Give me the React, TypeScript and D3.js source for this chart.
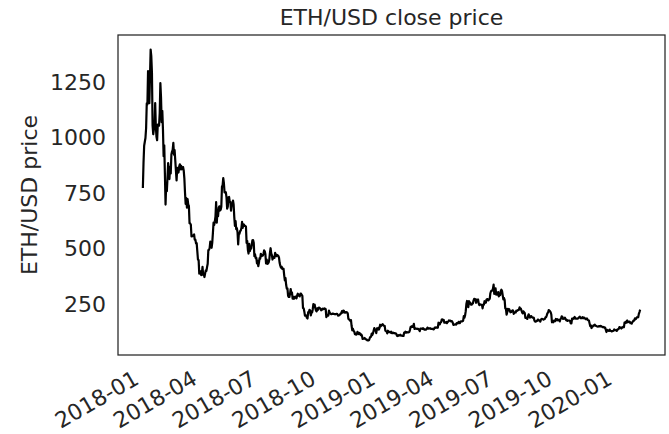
import React from "react";
import * as d3 from "d3";

const title = "ETH/USD close price";
const yLabel = "ETH/USD price";
const startDate = "2018-01-01";

const close2018 = [
  772, 884, 962, 980, 997, 1041, 1153, 1148, 1299, 1255, 1154, 1273, 1396, 1366, 1292, 1054, 1014, 1036, 1039, 1155, 1050, 1002, 987, 1058, 1056, 1053, 1109, 1245, 1181, 1068, 1119,
  1036, 915, 964, 834, 697, 790, 757, 817, 884, 860, 812, 867, 837, 923, 936, 944, 975, 922, 942, 895, 850, 806, 862, 841, 842, 868, 878, 856,
  872, 856, 857, 866, 851, 815, 751, 700, 726, 683, 721, 697, 691, 613, 612, 606, 553, 553, 557, 558, 562, 539, 539, 522, 523, 486, 448, 447, 385, 395, 396,
  379, 386, 416, 380, 383, 370, 386, 400, 398, 415, 430, 492, 492, 501, 530, 511, 502, 524, 567, 615, 605, 621, 643, 708, 615, 662, 645, 683, 689, 670,
  673, 687, 777, 784, 816, 793, 752, 753, 752, 729, 678, 687, 730, 731, 709, 709, 669, 697, 695, 715, 697, 640, 601, 622, 586, 590, 573, 517, 565, 565, 577,
  580, 591, 619, 592, 608, 606, 601, 601, 597, 524, 532, 492, 476, 520, 487, 498, 498, 517, 536, 537, 525, 464, 473, 455, 457, 432, 443, 419, 434, 455,
  453, 475, 464, 467, 467, 475, 490, 486, 473, 431, 449, 429, 431, 436, 449, 479, 500, 477, 469, 449, 461, 457, 456, 479, 471, 464, 470, 468, 465, 457, 433,
  421, 412, 417, 407, 408, 407, 378, 355, 365, 335, 318, 319, 286, 280, 280, 294, 316, 294, 300, 273, 281, 272, 276, 282, 279, 274, 287, 295, 288, 285, 283,
  295, 295, 289, 285, 230, 229, 215, 196, 197, 196, 186, 183, 212, 211, 222, 220, 197, 209, 210, 224, 248, 241, 245, 229, 219, 215, 229, 222, 231, 232,
  230, 226, 220, 222, 227, 225, 226, 229, 227, 225, 189, 196, 197, 196, 219, 210, 206, 203, 203, 205, 205, 204, 203, 203, 202, 203, 204, 203, 196, 197, 198,
  201, 205, 206, 216, 210, 219, 218, 210, 209, 212, 212, 210, 206, 181, 180, 175, 173, 176, 149, 130, 137, 127, 124, 113, 116, 110, 112, 123, 118, 113,
  118, 115, 108, 111, 104, 91, 92, 92, 95, 91, 89, 89, 85, 84, 84, 86, 95, 100, 101, 115, 109, 117, 129, 140, 130, 131, 117, 138, 134, 141, 133,
];

const close2019 = [
  140, 155, 148, 153, 155, 157, 151, 150, 150, 128, 126, 124, 116, 128, 122, 123, 122, 119, 124, 117, 117, 119, 117, 117, 116, 116, 113, 105, 104, 108, 106,
  107, 110, 106, 106, 105, 104, 104, 119, 119, 124, 119, 122, 121, 120, 121, 123, 132, 145, 144, 148, 145, 148, 159, 136, 139, 137, 137, 136,
  137, 135, 132, 126, 137, 137, 138, 136, 139, 137, 133, 134, 133, 133, 136, 142, 140, 137, 138, 140, 136, 136, 137, 136, 134, 135, 142, 141, 143, 142, 141,
  142, 164, 161, 157, 165, 166, 178, 179, 175, 177, 164, 164, 164, 168, 162, 167, 168, 174, 173, 174, 170, 171, 170, 164, 154, 155, 156, 157, 155, 162,
  162, 161, 168, 163, 162, 169, 170, 170, 171, 173, 194, 187, 197, 216, 248, 262, 244, 234, 261, 251, 255, 245, 245, 249, 251, 264, 272, 271, 269, 254, 268,
  266, 269, 251, 243, 247, 246, 245, 245, 229, 246, 245, 261, 255, 254, 268, 270, 270, 265, 269, 272, 297, 306, 309, 309, 318, 336, 294, 309, 319, 291,
  293, 291, 302, 283, 287, 289, 307, 313, 307, 288, 269, 275, 267, 228, 228, 200, 211, 227, 220, 225, 218, 211, 212, 216, 220, 219, 204, 210, 211, 210, 218,
  217, 219, 222, 222, 233, 226, 227, 219, 210, 206, 215, 211, 208, 186, 187, 184, 181, 194, 202, 196, 187, 191, 194, 189, 187, 187, 186, 173, 169, 169, 171,
  172, 178, 178, 174, 173, 169, 178, 181, 181, 180, 178, 180, 181, 188, 189, 197, 207, 210, 221, 218, 216, 211, 201, 166, 169, 166, 174, 174, 171, 181,
  176, 180, 175, 177, 176, 170, 180, 183, 193, 191, 181, 182, 182, 187, 180, 175, 177, 172, 174, 174, 174, 171, 161, 161, 182, 180, 185, 183, 190, 183, 182,
  183, 183, 182, 186, 189, 191, 186, 184, 185, 189, 184, 187, 186, 183, 180, 181, 183, 177, 175, 174, 161, 149, 152, 140, 147, 147, 152, 151, 155, 151,
  150, 148, 147, 146, 148, 149, 147, 150, 148, 146, 144, 145, 144, 141, 142, 132, 122, 132, 128, 128, 127, 133, 128, 127, 125, 126, 127, 128, 134, 132, 130,
];

const close2020 = [
  130, 127, 134, 134, 136, 144, 143, 141, 138, 143, 142, 146, 144, 165, 166, 163, 171, 174, 166, 167, 169, 168, 162, 162, 160, 167, 170, 175, 174, 184, 180,
  183, 188, 189, 189, 204, 212, 223,
];

const yTicks = [250, 500, 750, 1000, 1250];
const xTickLabels = ["2018-01", "2018-04", "2018-07", "2018-10", "2019-01", "2019-04", "2019-07", "2019-10", "2020-01"];

const W = 669;
const H = 434;
const left = 118;
const right = 665;
const top = 35;
const bottom = 355;
const ink = "#262626";
const font = "'DejaVu Sans', sans-serif";

export default function App() {
  const values = [...close2018, ...close2019, ...close2020];
  const start = new Date(startDate + "T00:00:00Z");
  const data = values.map((v, i) => ({ date: d3.utcDay.offset(start, i), v }));

  const [d0, d1] = d3.extent(data, (d) => d.date) as [Date, Date];
  const span = +d1 - +d0;
  const x = d3
    .scaleUtc()
    .domain([new Date(+d0 - span * 0.05), new Date(+d1 + span * 0.05)])
    .range([left, right]);

  const [v0, v1] = d3.extent(values) as [number, number];
  const vs = v1 - v0;
  const y = d3
    .scaleLinear()
    .domain([v0 - vs * 0.05, v1 + vs * 0.05])
    .range([bottom, top]);

  const line = d3
    .line<{ date: Date; v: number }>()
    .x((d) => x(d.date))
    .y((d) => y(d.v));

  const parse = d3.utcParse("%Y-%m");
  const xTicks = xTickLabels.map((s) => ({ s, d: parse(s) as Date }));

  return (
    <svg width={W} height={H} style={{ position: "absolute", left: 0, top: 0, background: "#fff" }}>
      <rect x={0} y={0} width={W} height={H} fill="#fff" />
      <path d={line(data) || ""} fill="none" stroke="#000" strokeWidth={2.2} strokeLinejoin="round" />
      <rect x={left} y={top} width={right - left} height={bottom - top} fill="none" stroke={ink} strokeWidth={1.25} />
      {yTicks.map((t) => (
        <text key={t} x={106} y={y(t)} dy="0.36em" textAnchor="end" fontFamily={font} fontSize={22} fill={ink}>
          {t}
        </text>
      ))}
      {xTicks.map(({ s, d }) => {
        const px = x(d) - 2.6;
        const py = bottom + 28;
        return (
          <text key={s} x={px} y={py} textAnchor="end" fontFamily={font} fontSize={22} fill={ink} transform={`rotate(-30 ${px} ${py})`}>
            {s}
          </text>
        );
      })}
      <text x={(left + right) / 2} y={25} textAnchor="middle" fontFamily={font} fontSize={22} fill={ink}>
        {title}
      </text>
      <text transform={`translate(37 ${(top + bottom) / 2}) rotate(-90)`} textAnchor="middle" fontFamily={font} fontSize={22} fill={ink}>
        {yLabel}
      </text>
    </svg>
  );
}
